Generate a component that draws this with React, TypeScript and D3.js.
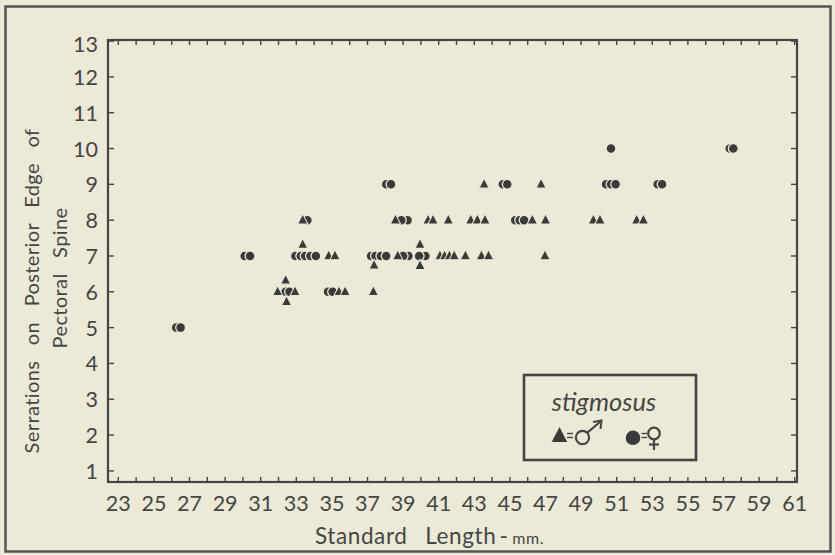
import * as d3 from "d3";

// serrations vs standard length
// females (circles) drawn in array order, so later ones cover earlier ones
const females: [number, number][] = [
  [26.25, 5], [26.5, 5],
  [30.1, 7], [30.4, 7],
  [32.4, 6], [32.62, 6],
  [32.95, 7], [33.25, 7], [33.5, 7], [33.8, 7], [34.1, 7],
  [33.62, 8],
  [34.78, 6], [35.04, 6],
  [37.2, 7], [37.45, 7], [37.75, 7], [38.05, 7],
  [38.05, 9], [38.32, 9],
  [39.25, 8], [38.9, 8],
  [39.3, 7], [39.0, 7], [40.25, 7], [39.9, 7],
  [44.6, 9], [44.85, 9],
  [45.3, 8], [45.55, 8], [45.8, 8],
  [50.4, 9], [50.68, 9], [50.94, 9],
  [50.68, 10],
  [53.3, 9], [53.55, 9],
  [57.35, 10], [57.55, 10],
];

// males (triangles); off-row values are the stacked duplicates as drawn
const males: [number, number][] = [
  [31.95, 6], [32.93, 6], [32.4, 6.32], [32.45, 5.72],
  [35.4, 6], [35.74, 6], [37.33, 6],
  [33.36, 7.32], [34.82, 7], [35.17, 7],
  [37.37, 6.74], [33.36, 8],
  [38.57, 8], [38.7, 7],
  [39.95, 7.32], [39.95, 6.73],
  [41.07, 7], [41.33, 7], [41.6, 7], [41.87, 7], [42.5, 7], [43.4, 7], [43.8, 7], [46.97, 7],
  [40.4, 8], [40.68, 8], [41.54, 8], [42.8, 8], [43.17, 8], [43.6, 8],
  [46.26, 8], [47.0, 8], [49.69, 8], [50.06, 8], [52.12, 8], [52.5, 8],
  [43.55, 9], [46.75, 9],
];

const xTickLabels = d3.range(23, 62, 2);
const xMinorTicks = d3.range(23, 62, 1);
const yTickLabels = d3.range(1, 14, 1);

const BG = "#ece9d7";
const INK = "#454543";
const MARK = "#3a3a38";
const FONT = "Lato, 'Noto Sans', sans-serif";

export default function App() {
  const left = 108, right = 797, top = 40, bottom = 482;

  const x = d3.scaleLinear().domain([22.42, 61.13]).range([left, right]);
  const y = d3.scaleLinear().domain([0.69, 13.03]).range([bottom, top]);

  // slightly taller than equilateral, like the hand-stamped marks
  const tri = d3.symbol().type(d3.symbolTriangle).size(46)() as string;
  const legendTri = d3.symbol().type(d3.symbolTriangle).size(105)() as string;

  return (
    <svg
      width={835}
      height={555}
      style={{ position: "absolute", left: 0, top: 0 }}
      fontFamily={FONT}
    >
      <rect x={0} y={0} width={835} height={555} fill={BG} />
      {/* outer frame */}
      <rect x={5.5} y={6.5} width={825} height={545} fill="none" stroke="#555" strokeWidth={2.5} />

      {/* plot frame */}
      <rect x={left} y={top} width={right - left} height={bottom - top} fill="none" stroke={INK} strokeWidth={2.2} />

      {/* x ticks, bottom and top */}
      {xMinorTicks.map((t) => (
        <g key={"xt" + t}>
          <line x1={x(t)} x2={x(t)} y1={bottom} y2={bottom - 5} stroke={INK} strokeWidth={1.4} />
          <line x1={x(t)} x2={x(t)} y1={top} y2={top + 5} stroke={INK} strokeWidth={1.4} />
        </g>
      ))}
      {xTickLabels.map((t) => (
        <text key={"xl" + t} x={x(t)} y={511} textAnchor="middle" fontSize={21.5} fill={INK}>
          {t}
        </text>
      ))}

      {/* y ticks, left and right */}
      {yTickLabels.map((t) => (
        <g key={"yt" + t}>
          <line x1={left} x2={left + 6} y1={y(t)} y2={y(t)} stroke={INK} strokeWidth={1.4} />
          <line x1={right} x2={right - 6} y1={y(t)} y2={y(t)} stroke={INK} strokeWidth={1.4} />
          <text x={98} y={y(t) + (t === 13 ? 11 : 8)} textAnchor="end" fontSize={21.5} fill={INK}>
            {t}
          </text>
        </g>
      ))}

      {/* axis titles */}
      <text x={315} y={544} fontSize={22.5} fill={INK} letterSpacing={0.6}>
        Standard<tspan dx={18}>Length</tspan>
        <tspan dx={3}>-</tspan>
        <tspan dx={4} fontSize={16}>mm.</tspan>
      </text>
      <text
        transform="translate(39,291) rotate(-90)"
        textAnchor="middle"
        fontSize={20}
        fill={INK}
        wordSpacing={10}
        letterSpacing={0.4}
      >
        Serrations on Posterior Edge of
      </text>
      <text
        transform="translate(67,278) rotate(-90)"
        textAnchor="middle"
        fontSize={20}
        fill={INK}
        wordSpacing={10}
        letterSpacing={0.4}
      >
        Pectoral Spine
      </text>

      {/* females */}
      {females.map(([len, s], i) => (
        <circle key={"f" + i} cx={x(len)} cy={y(s)} r={4.9} fill={MARK} stroke={BG} strokeWidth={1.3} />
      ))}
      {/* males */}
      {males.map(([len, s], i) => (
        <path
          key={"m" + i}
          d={tri}
          transform={`translate(${x(len)},${y(s) + 0.5}) scale(1,1.12)`}
          fill={MARK}
          stroke={BG}
          strokeWidth={1}
        />
      ))}

      {/* legend */}
      <g>
        <rect x={524} y={375} width={172} height={85} fill={BG} stroke={INK} strokeWidth={2.6} />
        <text x={604} y={411} textAnchor="middle" fontSize={25.5} fontStyle="italic" fill={INK}>
          stigmosus
        </text>
        <path d={legendTri} transform="translate(559.5,437) scale(1,1.12)" fill={MARK} />
        {/* equals signs drawn as two short strokes */}
        <line x1={567} x2={573} y1={433.5} y2={433.5} stroke={INK} strokeWidth={1.4} />
        <line x1={567} x2={573} y1={437.5} y2={437.5} stroke={INK} strokeWidth={1.4} />
        {/* male sign */}
        <circle cx={582.5} cy={437.5} r={6.6} fill="none" stroke={INK} strokeWidth={2.2} />
        <line x1={587.3} y1={432.7} x2={600} y2={422} stroke={INK} strokeWidth={2.2} />
        <path d="M593,422 L601.5,420.5 L600.5,429" fill="none" stroke={INK} strokeWidth={2} />
        <circle cx={633} cy={437.8} r={7.3} fill={MARK} />
        <line x1={641.5} x2={647} y1={433.5} y2={433.5} stroke={INK} strokeWidth={1.4} />
        <line x1={641.5} x2={647} y1={437.5} y2={437.5} stroke={INK} strokeWidth={1.4} />
        {/* female sign */}
        <circle cx={654} cy={433.5} r={5.8} fill="none" stroke={INK} strokeWidth={2.2} />
        <line x1={654} y1={439.3} x2={654} y2={450} stroke={INK} strokeWidth={2.2} />
        <line x1={649} y1={444.5} x2={659} y2={444.5} stroke={INK} strokeWidth={2.2} />
      </g>
    </svg>
  );
}
